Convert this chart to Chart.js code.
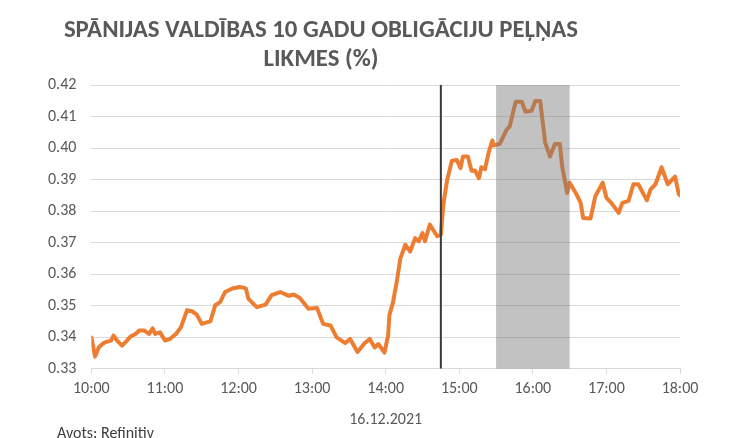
<!DOCTYPE html>
<html>
<head>
<meta charset="utf-8">
<script src="https://cdn.jsdelivr.net/npm/chart.js@4"></script>
<style>
  html, body { margin: 0; padding: 0; background: #fff; }
  #wrap { position: relative; width: 735px; height: 438px; overflow: hidden; }
  #title {
    position: absolute; left: 0; top: 14px; width: 642px;
    text-align: center; font-family: Carlito, 'Liberation Sans Narrow', 'Liberation Sans', sans-serif;
    font-weight: bold; font-size: 24.8px; line-height: 29px; color: #595959;
  }
  #source {
    position: absolute; left: 57px; top: 423px;
    font-family: Carlito, 'Liberation Sans Narrow', 'Liberation Sans', sans-serif;
    font-size: 16px; color: #404040;
  }
</style>
</head>
<body>
<div id="wrap">
  <canvas id="lineChart" width="735" height="438"></canvas>
  <div id="title">SPĀNIJAS VALDĪBAS 10 GADU OBLIGĀCIJU PEĻŅAS<br>LIKMES (%)</div>
  <div id="source">Avots: Refinitiv</div>
</div>
<script>
// minūtes kopš 10:00
const minutes = [
  0, 3, 6, 9, 11, 16, 18, 21, 25, 29, 32, 36, 39, 43, 47, 50, 52, 56, 60, 64,
  69, 73, 78, 82, 86, 90, 97, 101, 105, 109, 115, 121, 124, 126, 128, 132, 135, 142, 147, 154,
  161, 165, 170, 177, 184, 189, 195, 200, 207, 211, 217, 223, 227, 231, 234, 239, 242, 243, 246, 249,
  252, 256, 260, 264, 267, 270, 272, 276, 282, 285, 287, 290, 294, 298, 301, 303, 307, 310, 313, 316,
  318, 321, 324, 327, 328, 333, 339, 341, 346, 351, 354, 359, 362, 366, 370, 374, 378, 382, 384, 388,
  390, 394, 397, 399, 401, 407, 411, 417, 420, 424, 430, 433, 438, 442, 446, 453, 456, 460, 465, 470,
  476, 479, 480
];
const yields = [
  0.3399, 0.3338, 0.3367, 0.3378, 0.3383, 0.3389, 0.3405, 0.3389, 0.3373, 0.3389, 0.3402, 0.3410, 0.3421, 0.3421, 0.3410, 0.3428, 0.3410, 0.3415, 0.3389, 0.3394,
  0.3410, 0.3431, 0.3485, 0.3482, 0.3471, 0.3442, 0.3450, 0.3501, 0.3511, 0.3543, 0.3554, 0.3559, 0.3557, 0.3554, 0.3522, 0.3506, 0.3495, 0.3503, 0.3533, 0.3543,
  0.3531, 0.3535, 0.3524, 0.3490, 0.3492, 0.3442, 0.3437, 0.3399, 0.3381, 0.3394, 0.3353, 0.3381, 0.3394, 0.3367, 0.3378, 0.3351, 0.3405, 0.3469, 0.3511, 0.3575,
  0.3650, 0.3693, 0.3671, 0.3714, 0.3704, 0.3730, 0.3704, 0.3757, 0.3720, 0.3725, 0.3820, 0.3896, 0.3960, 0.3962, 0.3936, 0.3973, 0.3973, 0.3928, 0.3928, 0.3904,
  0.3939, 0.3933, 0.3986, 0.4024, 0.4008, 0.4013, 0.4061, 0.4067, 0.4147, 0.4147, 0.4115, 0.4118, 0.4149, 0.4149, 0.4018, 0.3973, 0.4013, 0.4013, 0.3939, 0.3858,
  0.3890, 0.3864, 0.3842, 0.3826, 0.3778, 0.3776, 0.3848, 0.3890, 0.3842, 0.3826, 0.3794, 0.3826, 0.3832, 0.3885, 0.3885, 0.3834, 0.3869, 0.3885, 0.3939, 0.3885,
  0.3909, 0.3853, 0.3850
];
const timeLabels = ['10:00', '11:00', '12:00', '13:00', '14:00', '15:00', '16:00', '17:00', '18:00'];
const eventMinute = 285;      // 14:45
const shadeFrom = 330;        // 15:30
const shadeTo = 390;          // 16:30

const fontFamily = "Carlito, 'Liberation Sans Narrow', 'Liberation Sans', sans-serif";

const points = [];
for (let i = 0; i < minutes.length; i++) {
  points.push({ x: minutes[i], y: yields[i] });
}

// pelēkais laukums un vertikālā līnija virs sērijas
const markers = {
  id: 'markers',
  afterDatasetsDraw(chart) {
    const ctx = chart.ctx;
    const x = chart.scales.x;
    const area = chart.chartArea;
    ctx.save();
    const x1 = x.getPixelForValue(shadeFrom);
    const x2 = x.getPixelForValue(shadeTo);
    ctx.fillStyle = 'rgba(120,120,120,0.45)';
    ctx.fillRect(x1, area.top, x2 - x1, area.bottom - area.top);
    const xe = x.getPixelForValue(eventMinute);
    ctx.strokeStyle = '#3a3a3a';
    ctx.lineWidth = 2;
    ctx.beginPath();
    ctx.moveTo(xe, area.top);
    ctx.lineTo(xe, area.bottom);
    ctx.stroke();
    ctx.restore();
  }
};

new Chart(document.getElementById('lineChart'), {
  type: 'line',
  data: {
    datasets: [{
      data: points,
      borderColor: '#ED7D31',
      borderWidth: 4,
      pointRadius: 0,
      tension: 0,
      borderJoinStyle: 'round',
      borderCapStyle: 'round'
    }]
  },
  options: {
    responsive: false,
    animation: false,
    layout: { padding: { top: 85, right: 55, left: 33, bottom: 8 } },
    plugins: {
      legend: { display: false },
      tooltip: { enabled: false }
    },
    scales: {
      x: {
        type: 'linear',
        min: 0,
        max: 480,
        ticks: {
          stepSize: 60,
          padding: 6,
          color: '#595959',
          font: { family: fontFamily, size: 16 },
          maxRotation: 0,
          callback: function (value) {
            return timeLabels[value / 60];
          }
        },
        grid: { drawOnChartArea: false, drawTicks: true, tickLength: 5, color: '#d9d9d9' },
        border: { color: '#d9d9d9' },
        title: {
          display: true,
          text: '16.12.2021',
          color: '#595959',
          font: { family: fontFamily, size: 16 },
          padding: { top: 6, bottom: 0 }
        }
      },
      y: {
        min: 0.33,
        max: 0.42,
        ticks: {
          stepSize: 0.01,
          padding: 15,
          color: '#595959',
          font: { family: fontFamily, size: 16 },
          callback: function (value) {
            return value.toFixed(2);
          }
        },
        grid: { color: '#d9d9d9', drawTicks: false },
        border: { display: false }
      }
    }
  },
  plugins: [markers]
});
</script>
</body>
</html>
